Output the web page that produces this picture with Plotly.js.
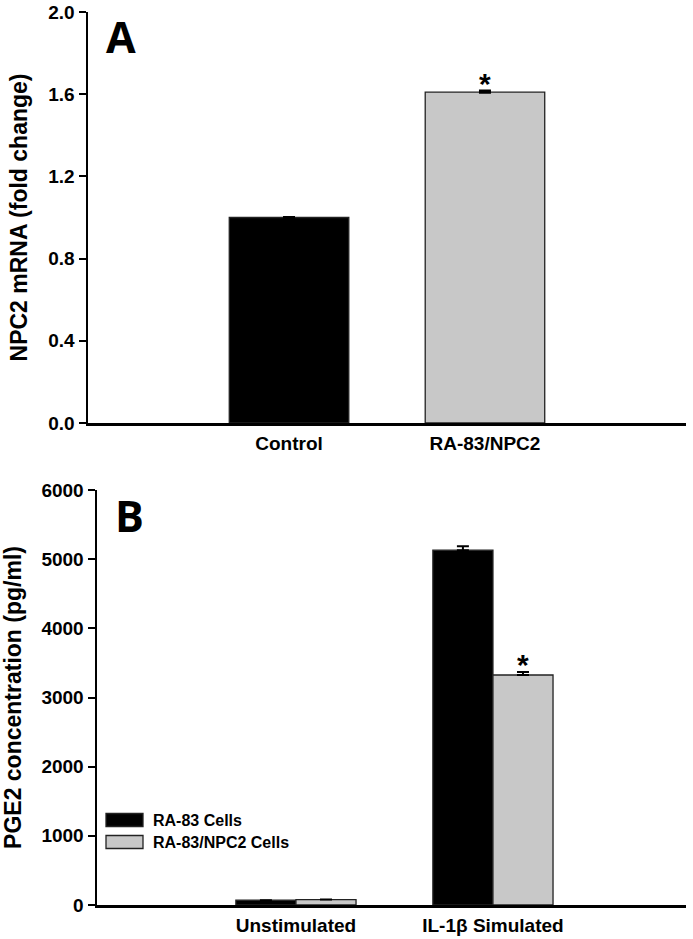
<!DOCTYPE html>
<html>
<head>
<meta charset="utf-8">
<script src="https://cdn.plot.ly/plotly-3.0.1.min.js"></script>
<style>html,body{margin:0;padding:0;background:#fff;}#chart{width:693px;height:939px;}</style>
</head>
<body>
<div id="chart"></div>
<script>
// ---- Panel A data ----
const catsA = ['Control', 'RA-83/NPC2'];
const valsA = [1.0, 1.61];
const errA = [null, 0.006];
const sigA = ['', '*'];
const colorsA = ['#000000', '#c8c8c8'];
const ticksA = [0, 0.4, 0.8, 1.2, 1.6, 2.0];

// ---- Panel B data ----
const catsB = ['Unstimulated', 'IL-1β Simulated'];
const seriesNamesB = ['RA-83 Cells', 'RA-83/NPC2 Cells'];
const valsB1 = [70, 5130];
const errB1 = [null, 58];
const valsB2 = [78, 3325];
const errB2 = [null, 45];
const sigB2 = ['', '*'];
const colorsB = ['#000000', '#c8c8c8'];
const ticksB = [0, 1000, 2000, 3000, 4000, 5000, 6000];

const W = 693, H = 939;
const FONT = 'Liberation Sans, Arial, sans-serif';
const BARGAP = 0.39;

function upErr(arr, thick) {
  return { type: 'data', symmetric: false, array: arr, arrayminus: arr.map(v => (v == null ? null : 0)),
    visible: true, color: '#000', thickness: thick, width: 6 };
}

const traces = [
  {
    type: 'bar', x: catsA, y: valsA, xaxis: 'x', yaxis: 'y',
    marker: { color: colorsA, line: { color: '#222', width: 1.3 } },
    error_y: upErr(errA, 3),
    showlegend: false, hoverinfo: 'x+y'
  },
  {
    type: 'bar', name: seriesNamesB[0], x: catsB, y: valsB1, xaxis: 'x2', yaxis: 'y2',
    marker: { color: colorsB[0], line: { color: '#222', width: 1.3 } },
    error_y: upErr(errB1, 2),
    showlegend: false
  },
  {
    type: 'bar', name: seriesNamesB[1], x: catsB, y: valsB2, xaxis: 'x2', yaxis: 'y2',
    marker: { color: colorsB[1], line: { color: '#222', width: 1.3 } },
    error_y: upErr(errB2, 2),
    showlegend: false
  }
];

const annotations = [];
const shapes = [];

// significance stars
sigA.forEach((s, i) => {
  if (s) annotations.push({
    xref: 'x', yref: 'y', x: i, y: valsA[i] + (errA[i] || 0), text: s,
    showarrow: false, xanchor: 'center', yanchor: 'bottom', yshift: -11,
    font: { family: FONT, size: 30, weight: 700, color: '#000' }
  });
});
const half = (1 - BARGAP) / 4;
sigB2.forEach((s, i) => {
  if (s) annotations.push({
    xref: 'x2', yref: 'y2', x: i + half, y: valsB2[i] + (errB2[i] || 0), text: s,
    showarrow: false, xanchor: 'center', yanchor: 'bottom', yshift: -11,
    font: { family: FONT, size: 30, weight: 700, color: '#000' }
  });
});

// panel letters
annotations.push({ xref: 'paper', yref: 'paper', x: 121 / W, y: 1 - 36 / H, text: 'A', showarrow: false,
  xanchor: 'center', yanchor: 'middle', font: { family: 'Open Sans, sans-serif', size: 43, weight: 700, color: '#000' } });
annotations.push({ xref: 'paper', yref: 'paper', x: 129 / W, y: 1 - 515 / H, text: 'B', showarrow: false,
  xanchor: 'center', yanchor: 'middle', font: { family: 'Open Sans, sans-serif', size: 43, weight: 700, color: '#000' } });

// custom legend for panel B
const legRows = [820, 842];
seriesNamesB.forEach((nm, i) => {
  const yc = legRows[i];
  shapes.push({ type: 'rect', xref: 'paper', yref: 'paper', x0: 106 / W, x1: 143 / W,
    y0: 1 - (yc + 6.5) / H, y1: 1 - (yc - 6.5) / H, fillcolor: colorsB[i], line: { color: '#222', width: 1.3 } });
  annotations.push({ xref: 'paper', yref: 'paper', x: 151 / W, y: 1 - yc / H, text: nm, showarrow: false,
    xanchor: 'left', yanchor: 'middle', font: { family: FONT, size: 16, weight: 700, color: '#000' } });
});

const yAxisCommon = {
  showline: true, linewidth: 2.5, linecolor: '#000', ticks: 'outside', ticklen: 7, tickwidth: 2, tickcolor: '#000',
  showgrid: false, zeroline: false, automargin: false, ticklabeloverflow: 'allow',
  tickfont: { family: FONT, size: 19, weight: 700, color: '#000' }
};
const xAxisCommon = {
  type: 'category', showline: true, linewidth: 2.5, linecolor: '#000', ticks: '', showgrid: false, zeroline: false,
  automargin: false, ticklabelstandoff: 2,
  tickfont: { family: FONT, size: 19, weight: 700, color: '#000' }
};

const layout = {
  width: W, height: H, margin: { l: 0, r: 0, t: 0, b: 0 },
  paper_bgcolor: '#fff', plot_bgcolor: '#fff',
  font: { family: FONT, color: '#000' },
  showlegend: false, barmode: 'group', bargap: BARGAP, bargroupgap: 0,
  xaxis: Object.assign({}, xAxisCommon, { domain: [88 / W, 686 / W], anchor: 'y', range: [-1.026, 2.026] }),
  yaxis: Object.assign({}, yAxisCommon, {
    domain: [1 - 423 / H, 1 - 12 / H], anchor: 'x', range: [0, 2], tickvals: ticksA, tickformat: '.1f',
    title: { text: 'NPC2 mRNA (fold change)', font: { family: FONT, size: 23, weight: 700, color: '#000' }, standoff: 14 }
  }),
  xaxis2: Object.assign({}, xAxisCommon, { domain: [97 / W, 686 / W], anchor: 'y2', range: [-1.01, 1.98] }),
  yaxis2: Object.assign({}, yAxisCommon, {
    domain: [1 - 905 / H, 1 - 490 / H], anchor: 'x2', range: [0, 6000], tickvals: ticksB,
    title: { text: 'PGE2 concentration (pg/ml)', font: { family: FONT, size: 23, weight: 700, color: '#000' }, standoff: 14 }
  }),
  annotations: annotations,
  shapes: shapes
};

Plotly.newPlot('chart', traces, layout, { displayModeBar: false, staticPlot: true });
</script>
</body>
</html>
